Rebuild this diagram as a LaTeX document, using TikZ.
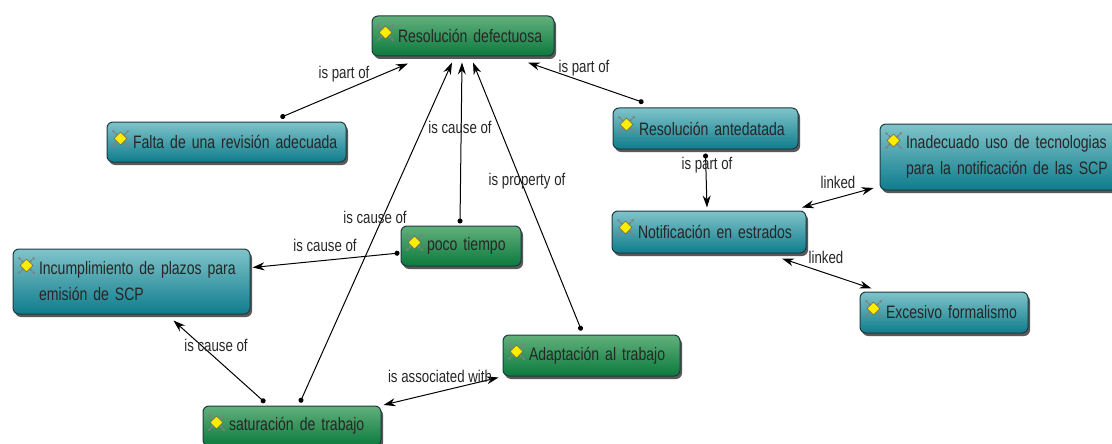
\documentclass[tikz,border=0pt]{standalone}
\usepackage{fontspec}
\setmainfont{Liberation Sans}[FakeStretch=0.78]
\usetikzlibrary{arrows.meta,shadows,shapes.geometric}
\definecolor{boxedge}{HTML}{1E3A40}
\definecolor{tealtop}{HTML}{80C4CA}
\definecolor{tealbot}{HTML}{0F7C8C}
\definecolor{greentop}{HTML}{62B07C}
\definecolor{greenbot}{HTML}{0B7A3C}
\tikzset{
  concept/.style={draw=boxedge, line width=1pt, rounded corners=6pt, inner xsep=4pt, inner ysep=2pt,
    align=left, font=\fontsize{18}{26}\selectfont, text=black!85,
    drop shadow={shadow xshift=2pt, shadow yshift=-3pt, fill=black, opacity=.65}},
  tealbox/.style={concept, top color=tealtop, bottom color=tealbot},
  greenbox/.style={concept, top color=greentop, bottom color=greenbot},
  ico/.style={diamond, draw=gray!70!black, fill=yellow!95!orange, inner sep=0pt, minimum size=13pt},
  icomark/.style={draw=gray, line width=1.6pt, dash pattern=on 3pt off 1pt},
  lab/.style={font=\fontsize{17}{20}\selectfont, text=black!85, inner sep=0pt},
  link/.style={line width=1pt, {Circle[length=5pt]}-{Stealth[length=12pt,width=8pt]}},
  bilink/.style={line width=1pt, {Stealth[length=12pt,width=8pt]}-{Stealth[length=12pt,width=8pt]}}
}
\newcommand{\ind}{\hspace*{22pt}}
\begin{document}
\begin{tikzpicture}[x=1pt,y=-1pt]
\clip (0,0) rectangle (1112,444);

\node[greenbox, text width=174pt, minimum height=40pt] (resolucion) at (463,36) {\ind Resolución defectuosa};
\node[tealbox, text width=231pt, minimum height=40pt] (falta) at (226.5,142) {\ind Falta de una revisión adecuada};
\node[tealbox, text width=177pt, minimum height=41pt] (antedatada) at (705.5,128.5) {\ind Resolución antedatada};
\node[tealbox, text width=260pt, minimum height=66pt] (inadecuado) at (1014,157) {\ind Inadecuado uso de tecnologias\\\ind para la notificación de las SCP};
\node[tealbox, text width=186pt, minimum height=42pt] (notificacion) at (709,232) {\ind Notificación en estrados};
\node[tealbox, text width=160pt, minimum height=41pt] (excesivo) at (944,312.5) {\ind Excesivo formalismo};
\node[tealbox, text width=229pt, minimum height=65pt] (incumplimiento) at (131.5,281.5) {\ind Incumplimiento de plazos para\\\ind emisión de SCP};
\node[greenbox, text width=112pt, minimum height=40pt] (poco) at (461,246) {\ind poco tiempo};
\node[greenbox, text width=169pt, minimum height=41pt] (adaptacion) at (591.5,355.5) {\ind Adaptación al trabajo};
\node[greenbox, text width=170pt, minimum height=40pt] (saturacion) at (292,426) {\ind saturación de trabajo};

\foreach \n in {resolucion,falta,antedatada,inadecuado,notificacion,excesivo,incumplimiento,poco,adaptacion,saturacion} {
  \node[ico] (ico\n) at ([shift={(14,17)}]\n.north west) {};
  \draw[icomark] ([shift={(-8,-8)}]ico\n.center) -- ([shift={(8,8)}]ico\n.center);
  \draw[icomark] ([shift={(-8,8)}]ico\n.center) -- ([shift={(8,-8)}]ico\n.center);
  \node[ico] (top\n) at (ico\n.center) {};
}

\draw[link] ([shift={(54,-4)}]falta.north) -- ([shift={(-55,7)}]resolucion.south);
\draw[link] ([shift={(-62,-5)}]antedatada.north) -- ([shift={(65,6)}]resolucion.south);
\draw[link] ([shift={(-1,-2)}]poco.north) -- ([shift={(-1,6)}]resolucion.south);
\draw[link] ([shift={(8,-3)}]saturacion.north) -- ([shift={(-11,6)}]resolucion.south);
\draw[link] ([shift={(-10,-4)}]adaptacion.north) -- ([shift={(10,6)}]resolucion.south);
\draw[link] ([shift={(0,4)}]antedatada.south) -- ([shift={(-2,-3)}]notificacion.north);
\draw[link] ([shift={(-1,7)}]poco.west) -- ([shift={(2,-14)}]incumplimiento.east);
\draw[link] ([shift={(-27,-3)}]saturacion.north) -- ([shift={(42,6)}]incumplimiento.south);
\draw[bilink] ([shift={(2,-21)}]saturacion.east) -- ([shift={(-4,22)}]adaptacion.west);
\draw[bilink] ([shift={(93,-3)}]notificacion.north) -- ([shift={(-6,31)}]inadecuado.west);
\draw[bilink] ([shift={(73,5)}]notificacion.south) -- ([shift={(12,-3)}]excesivo.north west);

\node[lab] (l1) at (344,74) {is part of};
\node[lab] (l2) at (584,68) {is part of};
\node[lab] (l3) at (460,127) {is cause of};
\node[lab] (l4) at (527,181) {is property of};
\node[lab] (l5) at (707,165) {is part of};
\node[lab] (l6) at (838,182) {linked};
\node[lab] (l7) at (826,257) {linked};
\node[lab] (l8) at (375,217) {is cause of};
\node[lab] (l9) at (325,245) {is cause of};
\node[lab] (l10) at (216,345) {is cause of};
\node[lab] (l11) at (440,376) {is associated with};

\end{tikzpicture}
\end{document}
